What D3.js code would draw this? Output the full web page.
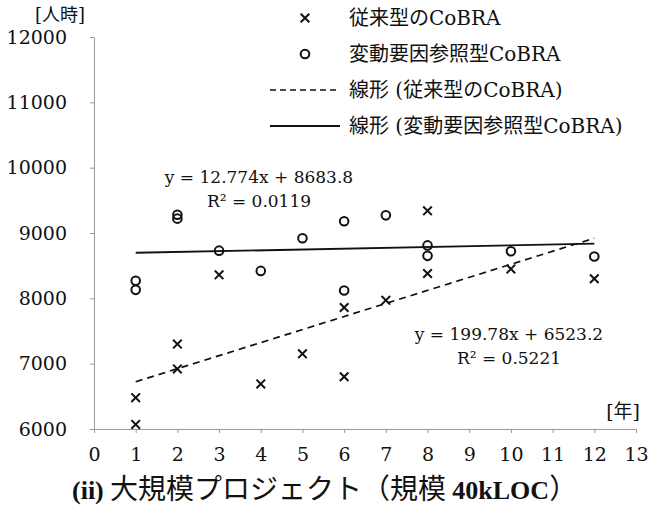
<!DOCTYPE html>
<html>
<head>
<meta charset="utf-8">
<script src="https://cdn.jsdelivr.net/npm/d3@7"></script>
<style>
  body { margin: 0; background: #fff; }
  svg { display: block; }
  .axis path, .axis line { stroke: #9a9a9a; stroke-width: 1; }
  .axis text { font-family: "DejaVu Serif", serif; font-size: 19px; fill: #111; }
  .lbl { font-family: "DejaVu Serif", "Noto Sans CJK JP", serif; fill: #111; }
</style>
</head>
<body>
<svg id="chart"></svg>
<script>
// 従来型のCoBRA (x marks)
const yearsA = [1, 1, 2, 2, 3, 4, 5, 6, 6, 7, 8, 8, 10, 12];
const hoursA = [6070, 6480, 6920, 7300, 8360, 6690, 7150, 6800, 7860, 7970, 8380, 9340, 8450, 8300];
// 変動要因参照型CoBRA (circles)
const yearsB = [1, 1, 2, 2, 3, 4, 5, 6, 6, 7, 8, 8, 10, 12];
const hoursB = [8130, 8270, 9220, 9280, 8730, 8420, 8920, 8120, 9180, 9270, 8650, 8810, 8720, 8640];

// linear trend lines as printed on the chart
const trendA = {slope: 199.78, intercept: 6523.2, eq: 'y = 199.78x + 6523.2', r2: 'R² = 0.5221'};
const trendB = {slope: 12.774, intercept: 8683.8, eq: 'y = 12.774x + 8683.8', r2: 'R² = 0.0119'};
const trendRange = [1, 12];

const xTicks = d3.range(0, 14);
const yTicks = [6000, 7000, 8000, 9000, 10000, 11000, 12000];

const legendLabels = ['従来型のCoBRA', '変動要因参照型CoBRA', '線形 (従来型のCoBRA)', '線形 (変動要因参照型CoBRA)'];

const width = 648, height = 506;

const svg = d3.select('#chart')
    .attr('width', width)
    .attr('height', height);

// scales
const x = d3.scaleLinear().domain([0, 13]).range([94, 636]);
const y = d3.scaleLinear().domain([6000, 12000]).range([429, 37]);

// axes
svg.append('g')
    .attr('class', 'axis')
    .attr('transform', `translate(0,${y(6000)})`)
    .call(d3.axisBottom(x).tickValues(xTicks).tickSize(4).tickSizeOuter(0).tickPadding(15));

svg.append('g')
    .attr('class', 'axis')
    .attr('transform', `translate(${x(0)},0)`)
    .call(d3.axisLeft(y).tickValues(yTicks).tickFormat(d3.format('d')).tickSize(4).tickSizeOuter(0).tickPadding(23));

// trend lines
const line = d3.line().x(d => x(d[0])).y(d => y(d[1]));
const trendPts = t => trendRange.map(v => [v, t.slope * v + t.intercept]);

svg.append('path')
    .attr('d', line(trendPts(trendA)))
    .attr('fill', 'none')
    .attr('stroke', '#111')
    .attr('stroke-width', 1.7)
    .attr('stroke-dasharray', '7,5');

svg.append('path')
    .attr('d', line(trendPts(trendB)))
    .attr('fill', 'none')
    .attr('stroke', '#111')
    .attr('stroke-width', 1.9);

// markers
const cross = d3.symbol().type(d3.symbolX).size(50);

svg.selectAll('.ptA')
    .data(d3.zip(yearsA, hoursA))
    .join('path')
    .attr('class', 'ptA')
    .attr('transform', d => `translate(${x(d[0])},${y(d[1])})`)
    .attr('d', cross())
    .attr('fill', 'none')
    .attr('stroke', '#111')
    .attr('stroke-width', 2);

svg.selectAll('.ptB')
    .data(d3.zip(yearsB, hoursB))
    .join('circle')
    .attr('class', 'ptB')
    .attr('cx', d => x(d[0]))
    .attr('cy', d => y(d[1]))
    .attr('r', 4.3)
    .attr('fill', 'none')
    .attr('stroke', '#111')
    .attr('stroke-width', 2);

// equations
const eqText = (t, cx, by) => {
    svg.append('text').attr('class', 'lbl').attr('x', cx).attr('y', by)
        .attr('text-anchor', 'middle').style('font-size', '17px').text(t.eq);
    svg.append('text').attr('class', 'lbl').attr('x', cx).attr('y', by + 24)
        .attr('text-anchor', 'middle').style('font-size', '17px').text(t.r2);
};
eqText(trendB, 259, 183);
eqText(trendA, 509, 340);

// unit labels
svg.append('text').attr('class', 'lbl').attr('x', 60).attr('y', 21)
    .attr('text-anchor', 'middle').style('font-size', '18px').text('[人時]');
svg.append('text').attr('class', 'lbl').attr('x', 640).attr('y', 418)
    .attr('text-anchor', 'end').style('font-size', '19px').text('[年]');

// legend
const legend = svg.append('g');
const rowY = [18, 54, 90, 126];

legend.append('path')
    .attr('transform', `translate(305,${rowY[0]})`)
    .attr('d', cross())
    .attr('fill', 'none').attr('stroke', '#111').attr('stroke-width', 2);
legend.append('circle')
    .attr('cx', 305).attr('cy', rowY[1]).attr('r', 4.3)
    .attr('fill', 'none').attr('stroke', '#111').attr('stroke-width', 2);
legend.append('line')
    .attr('x1', 270).attr('x2', 336).attr('y1', rowY[2]).attr('y2', rowY[2])
    .attr('stroke', '#111').attr('stroke-width', 1.7).attr('stroke-dasharray', '6,4');
legend.append('line')
    .attr('x1', 270).attr('x2', 340).attr('y1', rowY[3]).attr('y2', rowY[3])
    .attr('stroke', '#111').attr('stroke-width', 1.9);

legend.selectAll('.leg')
    .data(legendLabels)
    .join('text')
    .attr('class', 'lbl leg')
    .attr('x', 349)
    .attr('y', (d, i) => rowY[i] + 7)
    .style('font-size', '20px')
    .text(d => d);

// caption
const cap = svg.append('text')
    .attr('x', 72).attr('y', 499)
    .style('fill', '#111');
cap.append('tspan').style('font-family', '"Liberation Serif", serif').style('font-weight', 'bold')
    .style('font-size', '26px').text('(ii)');
cap.append('tspan').style('font-family', '"Noto Sans CJK JP", sans-serif')
    .style('font-size', '28px').text(' 大規模プロジェクト（規模 ');
cap.append('tspan').style('font-family', '"Liberation Serif", serif').style('font-weight', 'bold')
    .style('font-size', '26px').text('40kLOC');
cap.append('tspan').style('font-family', '"Noto Sans CJK JP", sans-serif')
    .style('font-size', '28px').text('）');
</script>
</body>
</html>
